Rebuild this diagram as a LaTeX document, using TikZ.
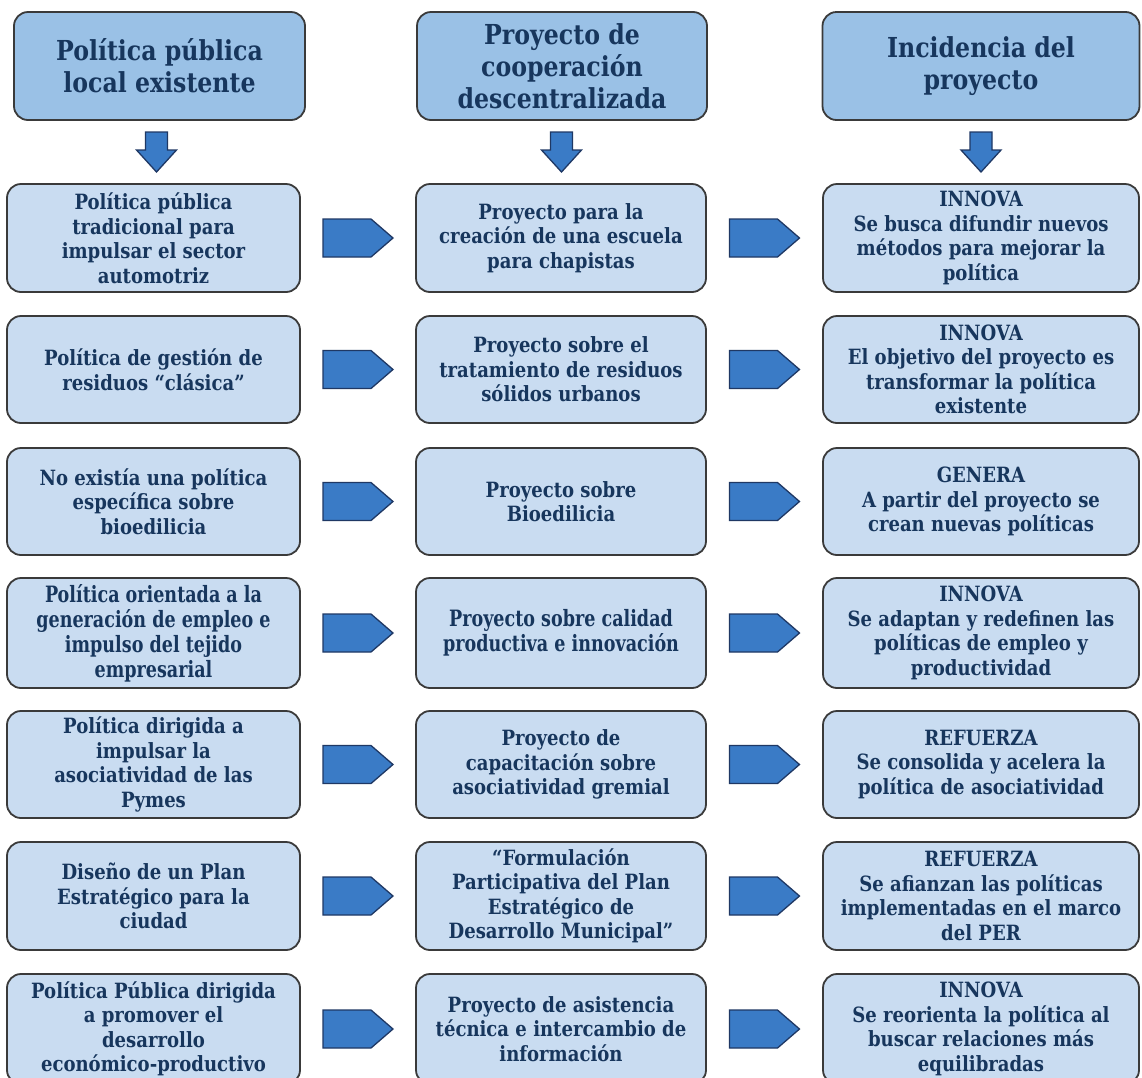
\documentclass[tikz,border=0pt]{standalone}
\usepackage{fontspec}
\setmainfont{DejaVu Serif}[FakeStretch=0.86]
\newfontfamily\condfont{DejaVu Serif}[FakeStretch=0.78]
\usetikzlibrary{calc}
\definecolor{txt}{HTML}{17365D}
\definecolor{hdrfill}{HTML}{9AC1E6}
\definecolor{rowfill}{HTML}{C9DCF1}
\definecolor{boxline}{HTML}{3A3A3A}
\definecolor{arrfill}{HTML}{3A7BC6}
\definecolor{arrline}{HTML}{1F3864}
\tikzset{
  rowbox/.style={draw=boxline, line width=1.8pt, rounded corners=14pt, fill=rowfill,
    text=txt, align=center, inner sep=0pt,
    font=\bfseries\fontsize{21}{24.5}\selectfont},
  hdrbox/.style={rowbox, fill=hdrfill, font=\bfseries\fontsize{27.5}{32}\selectfont},
  condtext/.style={font=\condfont\bfseries\fontsize{22.5}{25}\selectfont},
  c1/.style={minimum width=293pt},
  c2/.style={minimum width=290pt},
  c3/.style={minimum width=316pt},
  blockarrow/.style={fill=arrfill, draw=arrline, line width=1.3pt, line join=miter}
}
\newcommand{\downarr}[2]{\draw[blockarrow, shift={($(#1.south)!0.5!(#2.north)$)}]
  (-11,-20) -- (11,-20) -- (11,-2) -- (20,-2) -- (0,20) -- (-20,-2) -- (-11,-2) -- cycle;}
\newcommand{\rightarr}[2]{\draw[blockarrow, shift={($(#1.east)!0.5!(#2.west)$)}]
  (-35,-19) -- (13,-19) -- (35,0) -- (13,19) -- (-35,19) -- cycle;}
\begin{document}
\begin{tikzpicture}[x=1pt,y=-1pt]
\fill[white] (0,0) rectangle (1142,1077);
\useasboundingbox (0,0) rectangle (1142,1077);

% headers
\node[hdrbox, minimum width=291pt, minimum height=108pt] (h1) at (159.5,66) {Política pública\\local existente};
\node[hdrbox, minimum width=290pt, minimum height=108pt] (h2) at (562,66) {Proyecto de\\cooperación\\descentralizada};
\node[hdrbox, minimum width=317pt, minimum height=108pt] (h3) at (981,66) {Incidencia del\\proyecto};

% row 1
\node[rowbox, c1, minimum height=108pt] (a1) at (153.5,238) {Política pública\\tradicional para\\impulsar el sector\\automotriz};
\node[rowbox, c2, minimum height=108pt] (b1) at (561,238) {Proyecto para la\\creación de una escuela\\para chapistas};
\node[rowbox, c3, minimum height=108pt] (d1) at (981,238) {INNOVA\\Se busca difundir nuevos\\métodos para mejorar la\\política};
% row 2
\node[rowbox, c1, minimum height=107pt] (a2) at (153.5,369.5) {Política de gestión de\\residuos “clásica”};
\node[rowbox, c2, minimum height=107pt] (b2) at (561,369.5) {Proyecto sobre el\\tratamiento de residuos\\sólidos urbanos};
\node[rowbox, c3, minimum height=107pt] (d2) at (981,369.5) {INNOVA\\El objetivo del proyecto es\\transformar la política\\existente};
% row 3
\node[rowbox, c1, minimum height=107pt] (a3) at (153.5,501.5) {No existía una política\\específica sobre\\bioedilicia};
\node[rowbox, c2, minimum height=107pt] (b3) at (561,501.5) {Proyecto sobre\\Bioedilicia};
\node[rowbox, c3, minimum height=107pt] (d3) at (981,501.5) {GENERA\\A partir del proyecto se\\crean nuevas políticas};
% row 4
\node[rowbox, condtext, c1, minimum height=110pt] (a4) at (153.5,633) {Política orientada a la\\generación de empleo e\\impulso del tejido\\empresarial};
\node[rowbox, condtext, c2, minimum height=110pt] (b4) at (561,633) {Proyecto sobre calidad\\productiva e innovación};
\node[rowbox, c3, minimum height=110pt] (d4) at (981,633) {INNOVA\\Se adaptan y redefinen las\\políticas de empleo y\\productividad};
% row 5
\node[rowbox, c1, minimum height=107pt] (a5) at (153.5,764.5) {Política dirigida a\\impulsar la\\asociatividad de las\\Pymes};
\node[rowbox, c2, minimum height=107pt] (b5) at (561,764.5) {Proyecto de\\capacitación sobre\\asociatividad gremial};
\node[rowbox, c3, minimum height=107pt] (d5) at (981,764.5) {REFUERZA\\Se consolida y acelera la\\política de asociatividad};
% row 6
\node[rowbox, c1, minimum height=108pt] (a6) at (153.5,896) {Diseño de un Plan\\Estratégico para la\\ciudad};
\node[rowbox, c2, minimum height=108pt] (b6) at (561,896) {“Formulación\\Participativa del Plan\\Estratégico de\\Desarrollo Municipal”};
\node[rowbox, c3, minimum height=108pt] (d6) at (981,896) {REFUERZA\\Se afianzan las políticas\\implementadas en el marco\\del PER};
% row 7
\node[rowbox, c1, minimum height=110pt] (a7) at (153.5,1029) {Política Pública dirigida\\a promover el\\desarrollo\\económico-productivo};
\node[rowbox, c2, minimum height=110pt] (b7) at (561,1029) {Proyecto de asistencia\\técnica e intercambio de\\información};
\node[rowbox, c3, minimum height=110pt] (d7) at (981,1029) {INNOVA\\Se reorienta la política al\\buscar relaciones más\\equilibradas};

% down arrows
\downarr{h1}{a1}
\downarr{h2}{b1}
\downarr{h3}{d1}

% right arrows
\foreach \i in {1,...,7}{
  \rightarr{a\i}{b\i}
  \rightarr{b\i}{d\i}
}
\end{tikzpicture}
\end{document}
